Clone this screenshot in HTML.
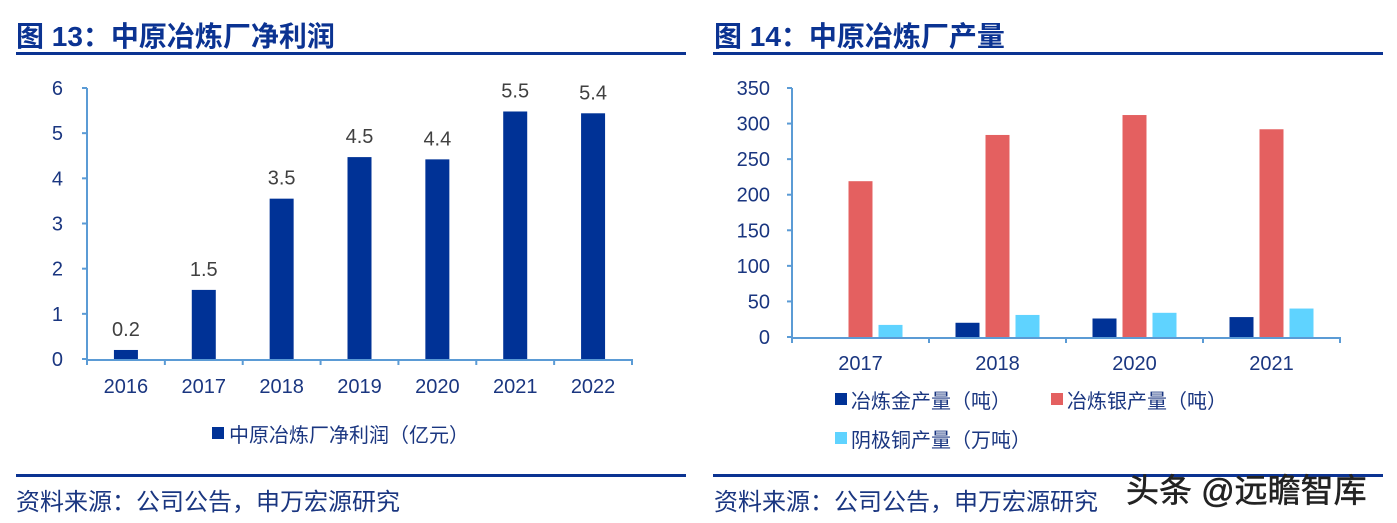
<!DOCTYPE html>
<html><head><meta charset="utf-8"><style>
body{margin:0;background:#fff;width:1397px;height:523px;overflow:hidden;font-family:"Liberation Sans","Noto Sans CJK SC",sans-serif;}
svg{position:absolute;left:0;top:0}
.t{font-weight:bold;fill:#0b3392;font-size:28px}
.tick{fill:#1a3680;font-size:20px}
.src{fill:#1a3680;font-size:24px}
</style></head><body>
<svg id="s" width="1397" height="523">
<text class="t" x="16" y="46">图 13：中原冶炼厂净利润</text>
<rect x="16" y="52" width="670" height="3" fill="#0b3392"/>
<text class="t" x="714" y="46">图 14：中原冶炼厂产量</text>
<rect x="713" y="52" width="670" height="3" fill="#0b3392"/>
<rect x="16" y="474" width="670" height="3" fill="#0b3392"/>
<rect x="713" y="474" width="670" height="3" fill="#0b3392"/>
<text class="src" x="16" y="510">资料来源：公司公告，申万宏源研究</text>
<text class="src" x="714" y="510">资料来源：公司公告，申万宏源研究</text>
<text x="1126" y="502" font-size="33" fill="#222" stroke="#222" stroke-width="0.5">头条 @远瞻智库</text>
<g id="L"></g><g id="R"></g>
</svg>
<script>
const leftCats=["2016","2017","2018","2019","2020","2021","2022"];
const leftVals=[0.2,1.53,3.55,4.47,4.42,5.48,5.44];
const leftLabels=["0.2","1.5","3.5","4.5","4.4","5.5","5.4"];
const leftTicks=[0,1,2,3,4,5,6];
const rightCats=["2017","2018","2020","2021"];
const goldVals=[0,20,26,28];
const silverVals=[219,284,312,292];
const copperVals=[17,31,34,40];
const rightTicks=[0,50,100,150,200,250,300,350];
const NS="http://www.w3.org/2000/svg";
function mk(p,tag,a,txt){const e=document.createElementNS(NS,tag);for(const k in a)e.setAttribute(k,a[k]);if(txt!==undefined)e.textContent=txt;p.appendChild(e);return e;}
// left
const L=document.getElementById('L');
const lx0=87,lx1=632,ly0=359,ly1=88;
const ly=v=>ly0-(v/6)*(ly0-ly1);
const lw=(lx1-lx0)/leftCats.length;
let e=mk(L,'line',{x1:lx0,y1:ly1,x2:lx0,y2:ly0,stroke:'#5b9bd5','stroke-width':2});

e=mk(L,'line',{x1:lx0,y1:ly0+1,x2:lx1,y2:ly0+1,stroke:'#5b9bd5','stroke-width':2});

leftTicks.forEach(t=>{
 mk(L,'line',{x1:lx0-5,x2:lx0,y1:ly(t),y2:ly(t),stroke:'#5b9bd5','stroke-width':2});
 e=mk(L,'text',{x:63,y:ly(t)+7,class:'tick','text-anchor':'end'},t);
 
});
for(let i=0;i<=leftCats.length;i++)mk(L,'line',{x1:lx0+i*lw,x2:lx0+i*lw,y1:ly0,y2:ly0+6,stroke:'#5b9bd5','stroke-width':2});
leftCats.forEach((c,i)=>{
 const cx=lx0+(i+0.5)*lw;
 e=mk(L,'rect',{x:cx-12,y:ly(leftVals[i]),width:24,height:ly0-ly(leftVals[i]),fill:'#003296'});
 
 e=mk(L,'text',{x:cx,y:ly(leftVals[i])-14,'text-anchor':'middle','font-size':20,fill:'#404040'},leftLabels[i]);
 
 e=mk(L,'text',{x:cx,y:393,'text-anchor':'middle',class:'tick'},c);
 
});
e=mk(L,'rect',{x:212,y:427,width:12,height:12,fill:'#003296'});

e=mk(L,'text',{x:229,y:442,class:'tick','font-size':22},'中原冶炼厂净利润（亿元）');

// right
const R=document.getElementById('R');
const rx0=792,rx1=1340,ry0=337,ry1=88;
const ry=v=>ry0-(v/350)*(ry0-ry1);
const rw=(rx1-rx0)/rightCats.length;
e=mk(R,'line',{x1:rx0,y1:ry1,x2:rx0,y2:ry0,stroke:'#5b9bd5','stroke-width':2});

e=mk(R,'line',{x1:rx0,y1:ry0+1,x2:rx1,y2:ry0+1,stroke:'#5b9bd5','stroke-width':2});

rightTicks.forEach(t=>{
 mk(R,'line',{x1:rx0-5,x2:rx0,y1:ry(t),y2:ry(t),stroke:'#5b9bd5','stroke-width':2});
 e=mk(R,'text',{x:770,y:ry(t)+7,class:'tick','text-anchor':'end'},t);
 
});
for(let i=0;i<=rightCats.length;i++)mk(R,'line',{x1:rx0+i*rw,x2:rx0+i*rw,y1:ry0,y2:ry0+6,stroke:'#5b9bd5','stroke-width':2});
const series=[[goldVals,'#003296',-30,'gold'],[silverVals,'#e46060',0,'silver'],[copperVals,'#5fd3ff',30,'copper']];
rightCats.forEach((c,i)=>{
 const cx=rx0+(i+0.5)*rw;
 series.forEach(s=>{
  const v=s[0][i];
  e=mk(R,'rect',{x:cx+s[2]-12,y:ry(v),width:24,height:ry0-ry(v),fill:s[1]});
  
 });
 e=mk(R,'text',{x:cx,y:370,'text-anchor':'middle',class:'tick'},c);
 
});
const legs=[[835,393,'#003296','冶炼金产量（吨）'],[1051,393,'#e46060','冶炼银产量（吨）'],[835,432,'#5fd3ff','阴极铜产量（万吨）']];
legs.forEach(l=>{
 e=mk(R,'rect',{x:l[0],y:l[1],width:12,height:12,fill:l[2]});
 
 e=mk(R,'text',{x:l[0]+16,y:l[1]+15,class:'tick','font-size':22},l[3]);
 
});
</script>
</body></html>
